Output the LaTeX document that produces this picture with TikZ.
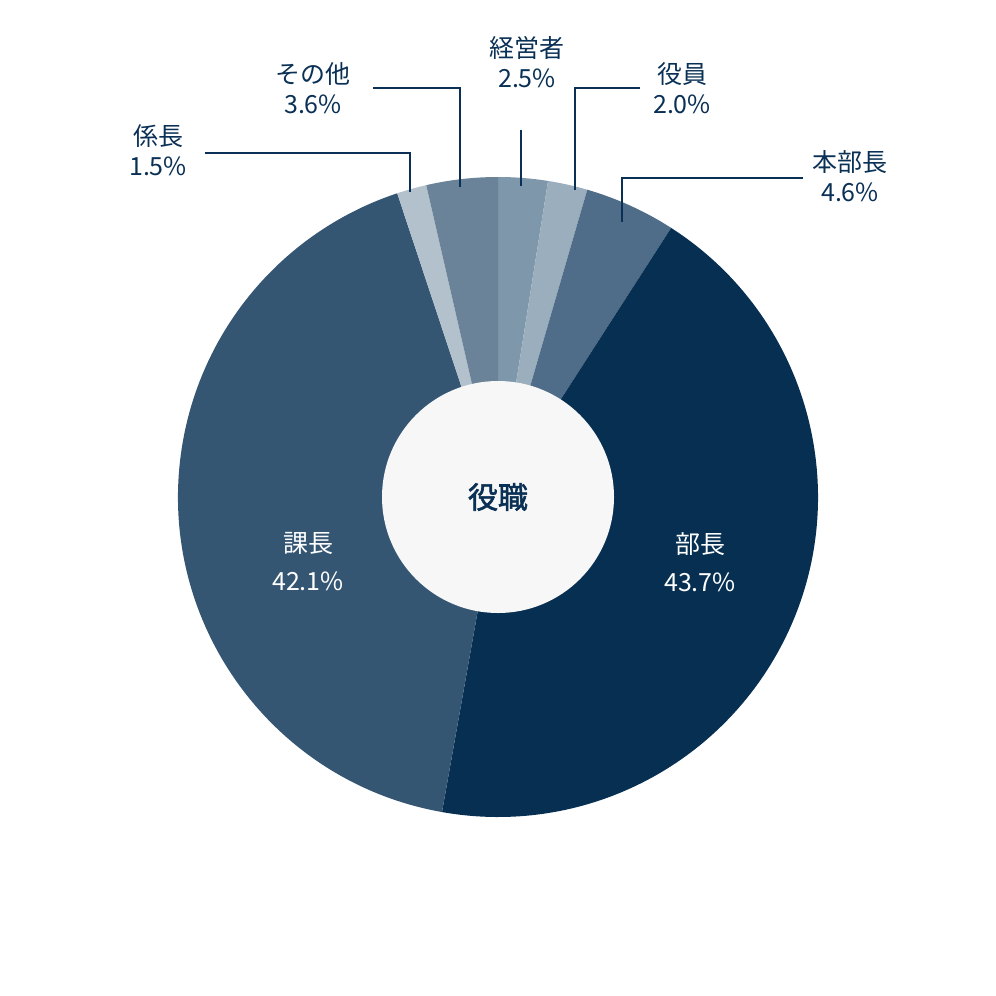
\documentclass[tikz,border=0pt]{standalone}
\usepackage{fontspec}
\newfontfamily\jp{Noto Sans CJK JP}
\newfontfamily\jpb{Noto Sans CJK JP}[FakeBold=2]
\definecolor{navy}{HTML}{0A3155}
\definecolor{cA}{HTML}{7F97AA}\definecolor{cB}{HTML}{9AAEBD}\definecolor{cC}{HTML}{4F6D88}
\definecolor{cD}{HTML}{062F52}\definecolor{cE}{HTML}{355673}\definecolor{cF}{HTML}{B3C1CC}
\definecolor{cG}{HTML}{6A8398}
\begin{document}
\begin{tikzpicture}[x=1pt,y=-1pt,
 lab/.style={font=\jp\fontsize{25}{28}\selectfont,text=navy,align=center,inner sep=0pt},
 inl/.style={font=\jp\fontsize{25}{28}\selectfont,text=white,align=center,inner sep=0pt},
 lead/.style={navy,line width=1.2pt}]
\useasboundingbox (0,0) rectangle (996,996);
\coordinate (c) at (498,497);
\def\R{320}
\foreach \a/\b/\col in {-90/-81/cA,-81/-73.8/cB,-73.8/-57.24/cC,-57.24/100.08/cD,100.08/251.64/cE,251.64/257.04/cF,257.04/270/cG}
  \fill[\col] (c) -- ++(\a:\R) arc[start angle=\a,end angle=\b,radius=\R] -- cycle;
\fill[white!97!black] (c) circle[radius=116];
\node[font=\jpb\fontsize{30}{34}\selectfont,text=navy] (t) at (c) {役職};
\node[lab] (n1) at (527,62) {経営者\\[2pt]2.5\%};
\node[lab] (n2) at (682,88) {役員\\[2pt]2.0\%};
\node[lab] (n3) at (850,176) {本部長\\[2pt]4.6\%};
\node[lab] (n6) at (158,150) {係長\\[2pt]1.5\%};
\node[lab] (n7) at (313,88) {その他\\[2pt]3.6\%};
\node[inl] (n4) at (700,562) {部長\\[10pt]43.7\%};
\node[inl] (n5) at (308,562) {課長\\[10pt]42.1\%};
\coordinate (e1) at (521,130); \coordinate (s1) at (521,186);
\draw[lead] (s1) -- (e1);
\coordinate (s2) at (575,190); \coordinate (e2) at (640,88);
\draw[lead] (s2) |- (e2);
\coordinate (s3) at (622,222); \coordinate (e3) at (803,178);
\draw[lead] (s3) |- (e3);
\coordinate (s6) at (410,192); \coordinate (e6) at (205,153);
\draw[lead] (s6) |- (e6);
\coordinate (s7) at (460,187); \coordinate (e7) at (373,88);
\draw[lead] (s7) |- (e7);
\end{tikzpicture}
\end{document}
